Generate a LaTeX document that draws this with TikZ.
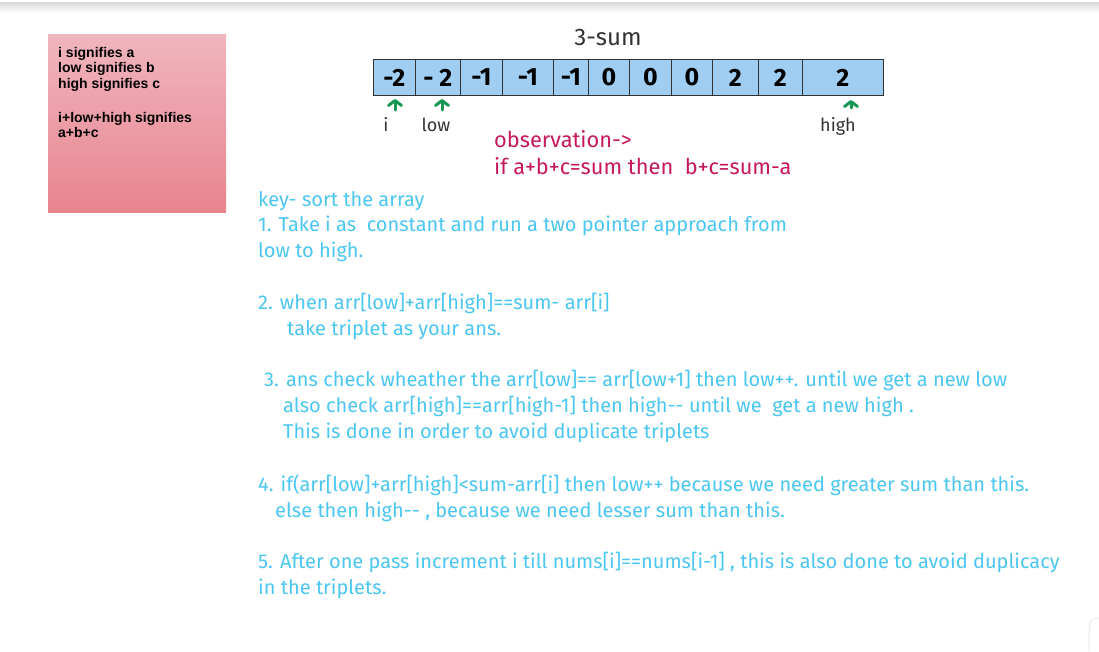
\documentclass[tikz,border=0pt]{standalone}
\usepackage{fontspec}
\setmainfont{Fira Sans}
\newfontfamily\handf{Fira Sans}
\newfontfamily\arialf{Liberation Sans}
\usetikzlibrary{arrows.meta}
\definecolor{txtblue}{RGB}{74,198,240}
\definecolor{obsred}{RGB}{198,24,92}
\definecolor{arrgreen}{RGB}{22,152,82}
\definecolor{cellblue}{RGB}{160,206,242}
\definecolor{pinktop}{RGB}{240,182,190}
\definecolor{pinkbot}{RGB}{232,132,142}
\definecolor{inkgray}{RGB}{50,50,50}
\begin{document}
\begin{tikzpicture}[x=1pt,y=-1pt,
  bline/.style={anchor=base west, inner sep=0pt, text=txtblue, font=\handf\fontsize{20}{22}\selectfont},
  oline/.style={anchor=base west, inner sep=0pt, text=obsred, font=\handf\fontsize{21.8}{23}\selectfont},
  pline/.style={anchor=base west, inner sep=0pt, text=black, font=\arialf\bfseries\fontsize{14}{16}\selectfont},
  cell/.style={draw=inkgray, line width=0.8pt, fill=cellblue, anchor=north west, minimum height=36pt, inner sep=0pt, font=\handf\bfseries\fontsize{25}{27}\selectfont, text=black},
  plabel/.style={anchor=base, inner sep=0pt, text=inkgray, font=\handf\fontsize{18}{20}\selectfont},
  ptr/.style={draw=arrgreen, line width=3pt, line cap=round, -{Straight Barb[length=5pt 0, width=13pt 0, round]}}
]
\useasboundingbox (0,0) rectangle (1099,651);
% top band
\shade[top color=gray!30, bottom color=white] (0,2) rectangle (1099,13);
\draw[gray!30, line width=0.8pt] (0,2.5) -- (1099,2.5);
% note box
\shade[top color=pinktop, bottom color=pinkbot] (48,34) rectangle (226,212);
\node[pline] (p1) at (58,57) {i signifies a};
\node[pline] (p2) at (58,72.5) {low signifies b};
\node[pline] (p3) at (58,88.5) {high signifies c};
\node[pline] (p4) at (58,122) {i+low+high signifies};
\node[pline] (p5) at (58,137.5) {a+b+c};
% title
\node[anchor=base, inner sep=0pt, text=inkgray, font=\handf\fontsize{24}{26}\selectfont] (title) at (608,45) {3-sum};
% array
\node[cell, minimum width=42pt] (c1) at (373,59) {-2};
\node[cell, minimum width=45pt] (c2) at (415,59) {- 2};
\node[cell, minimum width=42pt] (c3) at (460,59) {-1};
\node[cell, minimum width=51pt] (c4) at (502,59) {-1};
\node[cell, minimum width=35pt] (c5) at (553,59) {-1};
\node[cell, minimum width=41pt] (c6) at (588,59) {0};
\node[cell, minimum width=42pt] (c7) at (629,59) {0};
\node[cell, minimum width=41pt] (c8) at (671,59) {0};
\node[cell, minimum width=46pt] (c9) at (712,59) {2};
\node[cell, minimum width=44pt] (c10) at (758,59) {2};
\node[cell, minimum width=81pt] (c11) at (802,59) {2};
% pointers
\coordinate (ai) at (395,110);
\coordinate (al) at (442,110);
\coordinate (ah) at (851,108);
\draw[ptr] (ai) -- ++(0,-11);
\draw[ptr] (al) -- ++(0,-11);
\draw[ptr] (ah) -- ++(0,-8);
\node[plabel] (li) at (386,131) {i};
\node[plabel] (ll) at (436,131) {low};
\node[plabel] (lh) at (838,131) {high};
% observation
\node[oline] (o1) at (494,147) {observation->};
\node[oline] (o2) at (494,174) {if a+b+c=sum then\ \ b+c=sum-a};
% steps
\node[bline] (k0) at (258,206) {key- sort the array};
\node[bline] (k1) at (258,231) {1. Take i as\ \ constant and run a two pointer approach from};
\node[bline] (k1b) at (258,257) {low to high.};
\node[bline] (k2) at (258,309) {2. when arr[low]+arr[high]==sum- arr[i]};
\node[bline] (k2b) at (287,335) {take triplet as your ans.};
\node[bline] (k3) at (264,386) {3. ans check wheather the arr[low]== arr[low+1] then low++. until we get a new low};
\node[bline] (k3b) at (283,412) {also check arr[high]==arr[high-1] then high-- until we\ \ get a new high .};
\node[bline] (k3c) at (283,438) {This is done in order to avoid duplicate triplets};
\node[bline] (k4) at (258,491) {4. if(arr[low]+arr[high]<sum-arr[i] then low++ because we need greater sum than this.};
\node[bline] (k4b) at (275,517) {else then high-- , because we need lesser sum than this.};
\node[bline] (k5) at (258,568) {5. After one pass increment i till nums[i]==nums[i-1] , this is also done to avoid duplicacy};
\node[bline] (k5b) at (258,594) {in the triplets.};
% corner card
\draw[gray!18, line width=1pt] (1089,651) -- (1089,628) .. controls (1089,621) and (1092,618) .. (1099,618);
\end{tikzpicture}
\end{document}
